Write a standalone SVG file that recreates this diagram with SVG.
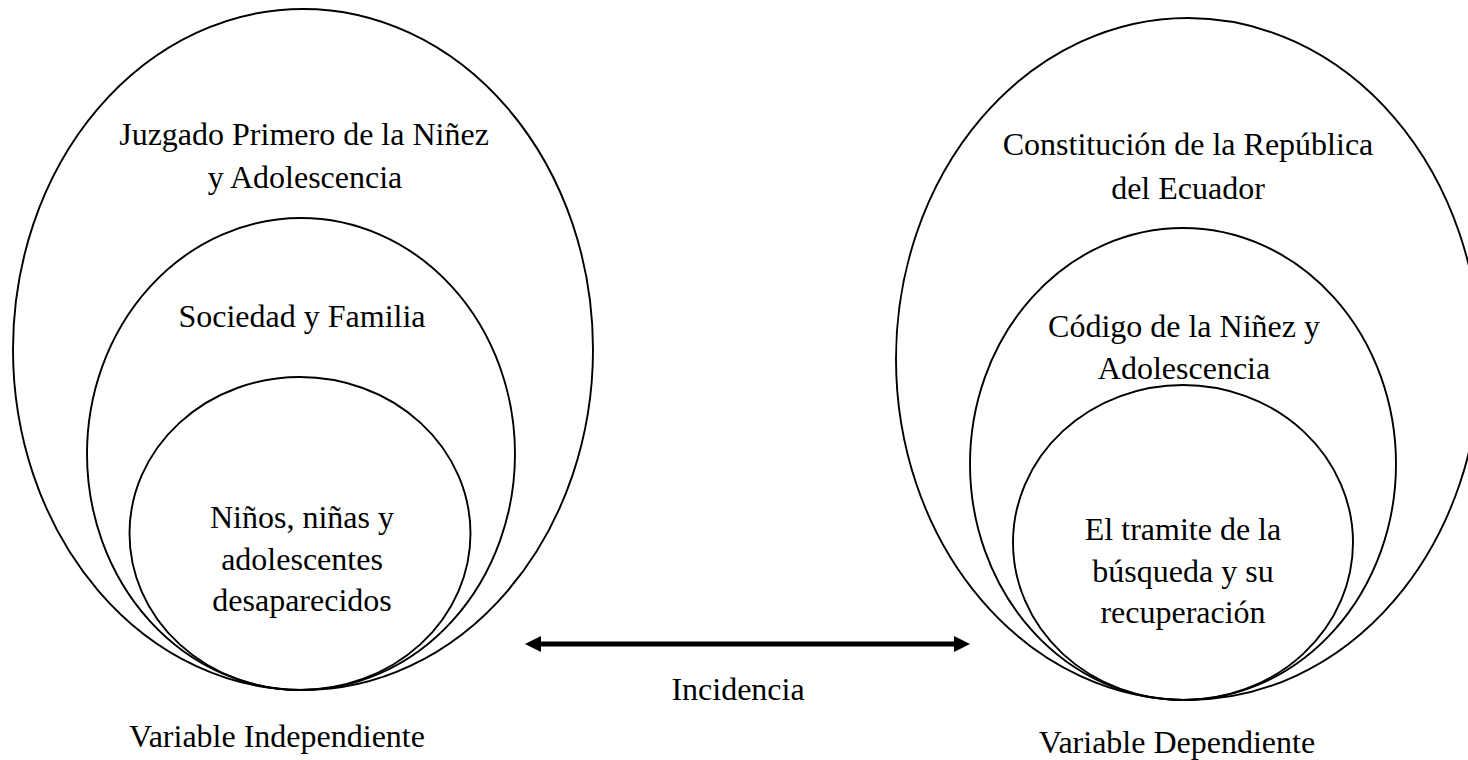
<svg xmlns="http://www.w3.org/2000/svg" width="1468" height="760" viewBox="0 0 1468 760">
<style>
.e{fill:none;stroke:#000;stroke-width:1.9}
text{font-family:"Liberation Serif","Times New Roman",serif;font-size:32px;fill:#000;text-anchor:middle}
</style>
<rect width="1468" height="760" fill="#fff"/>
<g id="left-outer"><ellipse class="e" cx="303" cy="349.5" rx="290" ry="340.5"/>
<text x="304" y="145">Juzgado Primero de la Niñez</text><text x="305" y="188">y Adolescencia</text></g>
<g id="left-middle"><ellipse class="e" cx="301" cy="454" rx="214" ry="236"/>
<text x="302" y="327">Sociedad y Familia</text></g>
<g id="left-inner"><ellipse class="e" cx="300" cy="533.5" rx="170.5" ry="156.5"/>
<text x="302" y="528">Niños, niñas y</text><text x="302" y="570">adolescentes</text><text x="302" y="611">desaparecidos</text></g>
<g id="left-label"><text x="277" y="747">Variable Independiente</text></g>
<g id="right-outer"><ellipse class="e" cx="1188" cy="359" rx="292" ry="341"/>
<text x="1188" y="155">Constitución de la República</text><text x="1188" y="199">del Ecuador</text></g>
<g id="right-middle"><ellipse class="e" cx="1183" cy="464" rx="213" ry="236"/>
<text x="1184" y="337">Código de la Niñez y</text><text x="1184" y="379">Adolescencia</text></g>
<g id="right-inner"><ellipse class="e" cx="1183" cy="542.5" rx="170" ry="157.5"/>
<text x="1183" y="540">El tramite de la</text><text x="1183" y="582">búsqueda y su</text><text x="1183" y="623">recuperación</text></g>
<g id="right-label"><text x="1177" y="753">Variable Dependiente</text></g>
<g id="connectors">
<line x1="536" y1="644" x2="959" y2="644" stroke="#000" stroke-width="5"/>
<polygon points="525,644 541,636 541,652" fill="#000"/>
<polygon points="970,644 954,636 954,652" fill="#000"/>
<text x="738" y="700">Incidencia</text>
</g>
</svg>
